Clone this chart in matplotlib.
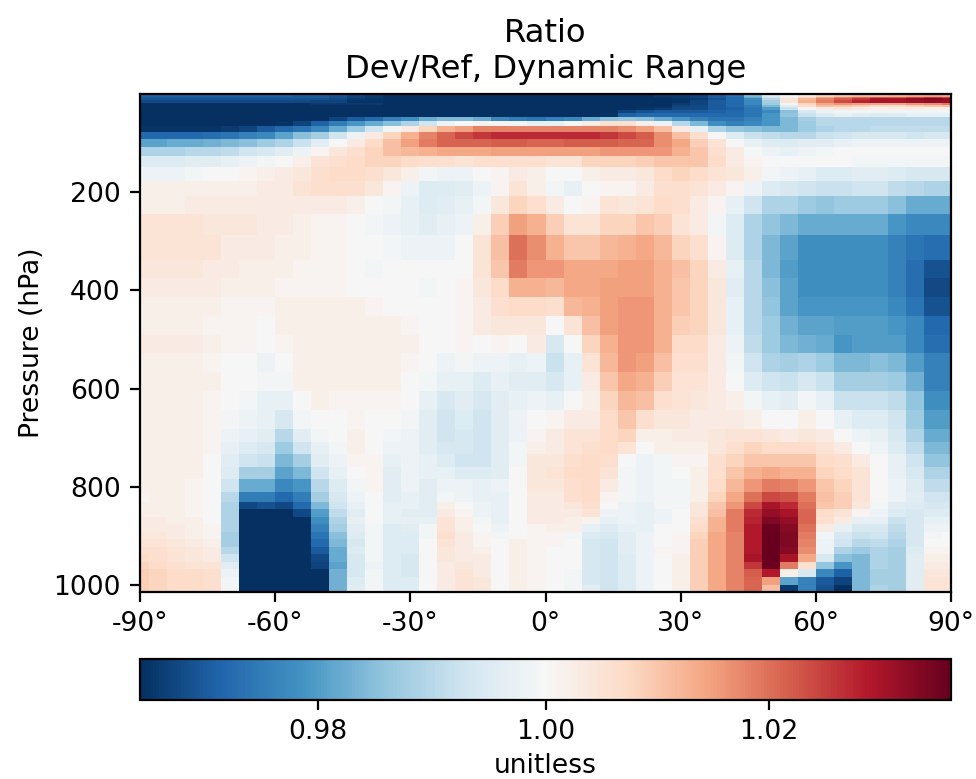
import numpy as np
import matplotlib
matplotlib.use("Agg")
import matplotlib.pyplot as plt
from matplotlib.colors import TwoSlopeNorm

# Pressure edges of the plotted layers (hPa), top to bottom
pressure_edges = [0.01, 6.2, 9.3, 13.6, 19.8, 23.7, 28.4, 33.8, 40.2, 47.6, 56.4, 66.6, 78.5,
                  92.4, 108.7, 127.8, 150.4, 176.9, 208.2, 244.9, 288.1, 337.5,
                  376, 414, 452, 490, 528, 566, 604, 643, 682.2,
                  707.7, 733.1, 758.6, 784.1, 809.5, 829.9, 845.2, 860.5, 875.8,
                  891.05, 906.3, 921.6, 936.9, 952.2, 967.5, 982.8, 998.05, 1013.25]
# Latitude edges of the zonal cells (degrees)
lat_edges = [-90, -88, -84, -80, -76, -72, -68, -64, -60, -56, -52, -48, -44, -40, -36, -32,
             -28, -24, -20, -16, -12, -8, -4, 0, 4, 8, 12, 16, 20, 24, 28, 32, 36, 40, 44,
             48, 52, 56, 60, 64, 68, 72, 76, 80, 84, 88, 90]

# Ratio minus one, in thousandths, one list per layer (named by its lower pressure edge)
p0006 = [-29]*9 + [-30, -30, -31, -33, -34, -36, -37, -37, -38] + [-38]*9 + [-37, -36, -34, -34, -33, -30, -27, -16, -5, 0, 4, 8, 10, 12, 12, 13, 14, 15, 14]
p0009 = [-30]*11 + [-31, -33, -34, -36, -36, -36] + [-38]*10 + [-37, -36, -35, -34, -33, -30, -28, -18, -7, 2, 8, 14, 18, 20, 22, 22, 24, 26, 24]
p0014 = [-31]*11 + [-32, -34, -35, -37, -37] + [-38]*11 + [-37, -37, -36, -35, -34, -31, -28, -22, -10, 4, 12, 18, 22, 26, 30, 30, 32, 33, 32]
p0020 = [-32]*10 + [-33, -33, -35, -35, -37] + [-38]*13 + [-37, -36, -35, -33, -30, -28, -23, -12, 5, 13, 19, 24, 28, 30, 30, 31, 32, 31]
p0024 = [-37]*10 + [-34]*4 + [-37] + [-38]*14 + [-37, -34, -33, -30, -28, -23, -13, -1, 8, 14, 16, 15, 14, 14, 16, 17, 19]
p0028 = [-38]*9 + [-36]*5 + [-38]*15 + [-36, -33, -32, -30, -28, -25, -16, -4, 6, 11, 10, 9, 7, 7, 9, 10, 11]
p0034 = [-38]*28 + [-35, -34, -32, -32, -30, -29, -26, -20, -8, 1, 3, 4, 3, 2, 3, 3, 2, 2]
p0040 = [-38]*27 + [-33, -31, -30, -30, -30, -29, -28, -26, -23, -15, -6, -2, -1, -1, -1, -1, -1, -1, -1]
p0048 = [-38]*14 + [-36]*6 + [-38]*5 + [-36, -35, -29, -28, -28, -28, -28, -28, -28, -26, -21, -14, -8, -5, -3, -4, -5, -4, -3, -3, -3]
p0056 = [-38]*10 + [-36, -33, -30, -28, -24, -22, -18, -16, -16, -18, -23, -25, -26, -24, -23, -18, -15, -14, -15, -18, -21, -24, -26, -26, -24, -21, -16, -12, -10, -10] + [-10]*6
p0067 = [-38]*8 + [-35, -33, -29, -25, -21, -18, -15, -11, -7, -2, 0, 1, 1, -1, -3, -3, 0, 3, 6, 6, 2, -2, -10, -16, -22, -24, -23, -21, -16, -13, -10, -10] + [-10]*6
p0079 = [-35]*5 + [-34, -33, -30, -28, -26, -23, -18, -13, -7, -1, 3, 8, 13, 15, 18, 18, 18, 18, 18, 18, 18, 18, 17, 15, 11, 3, -3, -11, -14, -15, -16, -16, -13, -11, -10, -10, -9, -9, -9, -9, -9]
p0092 = [-28, -28, -28, -28, -27, -26, -24, -23, -19, -15, -12, -7, -2, 3, 8, 13, 18, 21, 24, 26, 27, 27, 27, 27, 27, 27, 26, 24, 22, 17, 11, 6, 0, -5, -8, -9, -10, -10, -8, -7, -6, -6, -6, -7, -6, -6]
p0109 = [-19, -19, -18, -18, -17, -16, -15, -13, -11, -8, -4, 0, 3, 7, 11, 15, 19, 21, 21, 21, 22, 22, 21, 21, 22, 22, 22, 21, 21, 17, 14, 9, 5, 0, -3, -5, -5, -4, -4, -3, -2, -2, -2, -2, -2, -2]
p0128 = [-11, -11, -11, -10, -10, -9, -7, -6, -4, -2, 1, 4, 6, 8, 11, 12, 13, 14, 14, 14, 15, 15, 15, 15, 15, 15, 16, 16, 16, 16, 13, 10, 6, 3, 0, -2, -3, -2, -1, 0, 0, 0, 0, 0, 0, 0]
p0150 = [-5, -5, -5, -4, -4, -3, -2, -1, 0, 2, 5, 6, 7, 8, 8, 7, 6, 6, 5, 6, 6, 6, 6, 5, 5, 8, 8, 8, 9, 10, 10, 10, 7, 3, 1, 0, 0, 0, 0, 0, -1, -1, -1, -1, -1, -1]
p0177 = [-2, -2, -2, -1, 0, 0, 1, 2, 3, 4, 6, 7, 7, 6, 4, 2, -1, -2, -2, 0, 1, 3, 2, 0, 0, 2, 3, 3, 4, 7, 8, 7, 5, 4, 2, -1, -2, -3, -5, -5, -4, -4, -5, -6, -6, -6]
p0208 = [2, 2, 2, 2, 2, 2, 2, 3, 3, 5, 6, 6, 6, 4, 1, -2, -5, -5, -4, -2, 1, 5, 2, -1, -3, 0, 1, 1, 3, 6, 6, 5, 3, 1, -2, -5, -6, -7, -8, -8, -7, -7, -9, -10, -11, -11]
p0245 = [2, 2, 2, 3, 3, 3, 3, 3, 3, 3, 3, 3, 2, 0, -1, -3, -5, -4, -3, -1, 4, 8, 6, 3, 0, 1, 5, 4, 5, 7, 6, 3, 1, -3, -7, -11, -11, -13, -14, -13, -13, -13, -15, -18, -18, -18]
p0288 = [5, 5, 5, 5, 4, 4, 4, 3, 3, 2, 1, 1, 0, -1, -2, -3, -4, -3, -2, 2, 9, 15, 13, 9, 5, 5, 8, 8, 10, 9, 5, 3, -1, -5, -11, -14, -16, -18, -18, -18, -18, -18, -21, -23, -23, -23]
p0338 = [5, 5, 5, 5, 5, 3, 3, 3, 2, 2, 1, 1, 0, 0, -1, -2, -2, -2, 0, 5, 11, 20, 17, 13, 10, 10, 12, 13, 14, 12, 8, 6, 1, -5, -11, -16, -19, -22, -22, -22, -22, -22, -24, -26, -27, -27]
p0376 = [4, 4, 4, 4, 3, 3, 2, 2, 2, 1, 1, 1, 0, -1, 0, 0, 0, 0, 0, 5, 10, 19, 16, 16, 14, 14, 14, 15, 15, 13, 11, 8, 3, -3, -10, -16, -20, -22, -22, -22, -22, -22, -24, -27, -31, -31]
p0414 = [3, 3, 3, 3, 3, 2, 2, 2, 1, 1, 1, 1, 0, 0, 0, 0, -1, 0, 1, 4, 7, 13, 13, 12, 14, 14, 15, 15, 15, 13, 10, 8, 4, -4, -10, -15, -19, -22, -22, -22, -22, -22, -24, -27, -32, -32]
p0452 = [2, 2, 2, 2, 2, 1, 1, 1, 2, 2, 2, 2, 2, 1, 0, 0, 0, 0, 1, 3, 6, 7, 7, 6, 12, 13, 15, 16, 16, 13, 10, 8, 4, -3, -10, -14, -19, -21, -21, -21, -21, -21, -23, -26, -31, -31]
p0490 = [2, 2, 2, 2, 1, 1, 1, 0, 2, 2, 2, 2, 2, 2, 2, 1, 0, 0, 1, 3, 4, 4, 4, 0, 5, 11, 15, 16, 16, 13, 9, 8, 4, -3, -10, -13, -17, -19, -19, -20, -20, -20, -21, -23, -28, -28]
p0528 = [3, 3, 3, 3, 2, 1, 1, 0, 1, 2, 2, 2, 2, 2, 2, 2, 0, 0, 1, 0, 1, 0, 3, -6, 0, 8, 13, 16, 16, 13, 7, 7, 3, -2, -9, -13, -16, -17, -18, -21, -20, -20, -20, -23, -27, -27]
p0566 = [2, 2, 2, 2, 1, 0, 0, -2, 0, 2, 2, 2, 2, 2, 2, 1, 0, -2, -1, -2, -2, -3, -2, -8, -3, 5, 12, 16, 15, 11, 6, 6, 3, -1, -7, -11, -12, -11, -13, -16, -16, -15, -16, -20, -24, -24]
p0604 = [2, 2, 2, 2, 2, 0, 0, -1, -1, 2, 2, 2, 2, 2, 2, 0, -1, -3, -3, -5, -3, -4, -4, -6, -3, 3, 10, 14, 13, 9, 5, 5, 3, 0, -5, -7, -8, -6, -8, -12, -12, -12, -13, -17, -24, -24]
p0643 = [2, 2, 2, 2, 1, 0, -1, -3, -3, 0, 2, 1, 1, 1, 1, 0, -3, -6, -4, -6, -4, -3, -2, -3, 0, 2, 8, 12, 11, 6, 5, 4, 3, 2, -1, -3, -4, -1, -3, -8, -8, -8, -9, -14, -22, -22]
p0682 = [2, 2, 2, 2, 1, -1, -2, -3, -6, -1, 0, 0, 1, 0, 0, -1, -4, -7, -5, -7, -4, -2, 0, 1, 3, 3, 7, 10, 6, 4, 4, 3, 3, 3, 2, 0, 0, 2, 0, -3, -5, -5, -7, -13, -20, -20]
p0708 = [2, 2, 2, 2, 1, -2, -3, -4, -10, -4, -1, 0, 2, 0, -1, -2, -4, -7, -6, -7, -4, -2, 1, 3, 5, 5, 7, 8, 2, 2, 3, 3, 4, 5, 5, 4, 3, 4, 3, 0, -2, -3, -6, -11, -18, -18]
p0733 = [2, 2, 2, 2, 1, -3, -5, -6, -13, -7, -3, -1, 2, 0, -2, -2, -4, -6, -6, -7, -4, -1, 2, 3, 5, 6, 7, 5, 0, 2, 2, 2, 4, 6, 8, 7, 7, 7, 5, 3, 0, -2, -5, -9, -16, -16]
p0759 = [2, 2, 2, 2, 0, -4, -7, -8, -16, -12, -4, -2, 1, 1, -3, -2, -3, -5, -7, -7, -4, -1, 4, 4, 6, 7, 6, 0, -2, -1, 1, 1, 6, 8, 10, 10, 10, 10, 7, 6, 3, 0, -3, -7, -14, -14]
p0784 = [2, 2, 2, 2, 0, -5, -12, -12, -19, -16, -7, -3, 0, 1, -4, -2, -3, -3, -5, -5, -4, 0, 4, 5, 7, 7, 5, -1, -2, -1, 0, 2, 6, 10, 13, 14, 13, 13, 8, 7, 5, 0, -3, -6, -11, -11]
p0810 = [2, 2, 2, 1, 0, -7, -18, -18, -23, -21, -10, -5, -1, 1, -4, -2, -4, -2, -2, -3, -2, 0, 4, 4, 6, 7, 3, -1, -2, -1, -1, 2, 7, 12, 16, 19, 18, 16, 10, 8, 5, 0, -2, -5, -9, -9]
p0830 = [1, 2, 2, 1, 0, -10, -25, -25, -28, -25, -12, -6, -2, 0, -4, -3, -4, -1, -2, -3, -3, 0, 3, 3, 6, 7, 1, -1, -2, -1, -1, 2, 8, 14, 20, 24, 23, 19, 11, 9, 5, 0, -2, -4, -7, -7]
p0845 = [2, 2, 2, 1, 0, -11, -32, -31, -32, -28, -16, -7, -3, 0, -3, -3, -4, 2, 0, -2, -3, 0, 3, 3, 4, 6, 0, -2, -3, -1, -1, 4, 10, 16, 24, 30, 27, 20, 10, 9, 4, -1, -4, -5, -6, -6]
p0861 = [2, 2, 2, 1, 0, -11, -38, -37, -36, -32, -20, -9, -4, 0, -3, -4, -4, 3, 1, -2, -3, 0, 3, 3, 3, 5, -2, -2, -3, -2, 0, 4, 11, 19, 27, 32, 30, 21, 7, 5, 1, -2, -5, -6, -5, -5]
p0876 = [3, 3, 2, 2, 0, -11, -38, -38, -38, -36, -22, -11, -3, 0, -3, -3, -3, 5, 2, -1, -3, 0, 3, 3, 2, 1, -3, -2, -3, -2, 0, 6, 13, 19, 28, 34, 32, 21, 6, 3, -3, -3, -8, -6, -3, -3]
p0891 = [3, 3, 3, 2, 1, -11, -38, -38, -38, -38, -24, -12, -4, -1, -5, -4, -1, 5, 2, 0, -2, 0, 1, 2, 2, -3, -5, -3, -3, 0, 0, 7, 13, 19, 29, 36, 33, 20, 3, -3, -6, -6, -9, -6, -2, -2]
p0906 = [4, 4, 3, 2, 1, -12, -38, -38, -38, -38, -26, -15, -5, -1, -5, -5, -1, 6, 3, 1, -1, 0, 1, 1, -1, -5, -6, -4, -2, 0, 1, 8, 14, 18, 29, 37, 34, 19, -1, -6, -8, -7, -10, -6, -1, 0]
p0922 = [5, 5, 4, 3, 2, -12, -38, -38, -38, -38, -28, -16, -6, -1, -5, -5, 0, 5, 3, 1, 0, 2, 1, 1, 0, -6, -7, -4, -2, 0, 1, 9, 14, 18, 29, 37, 34, 18, -2, -7, -10, -9, -11, -6, 0, 0]
p0937 = [6, 6, 5, 4, 3, -10, -38, -38, -38, -38, -30, -18, -5, -1, -5, -5, 0, 4, 3, 2, 0, 2, 1, 0, 0, -6, -7, -4, -2, 1, 1, 9, 14, 18, 29, 37, 33, 17, -2, -11, -13, -11, -12, -5, 1, 1]
p0952 = [7, 6, 5, 4, 3, -7, -38, -38, -38, -38, -32, -18, -6, -1, -5, -6, 0, 4, 3, 3, 0, 2, 1, 0, 0, -6, -7, -5, -2, 0, 2, 9, 14, 18, 30, 37, 30, 14, -6, -15, -16, -11, -12, -4, 2, 2]
p0968 = [8, 7, 6, 5, 5, -4, -38, -38, -38, -38, -33, -19, -6, -2, -5, -6, 0, 3, 4, 3, 0, 2, 1, 0, 0, -6, -7, -5, -2, 0, 2, 9, 14, 18, 26, 36, 19, 6, -14, -21, -16, -11, -12, -4, 3, 3]
p0983 = [9, 8, 7, 7, 6, -2, -38, -38, -38, -38, -36, -17, -6, -1, -5, -6, 0, 3, 5, 3, 0, 2, 1, 0, -1, -6, -7, -5, -2, 0, 2, 9, 14, 18, 22, 29, 2, -6, -23, -29, -16, -12, -12, -4, 4, 4]
p0998 = [9, 8, 7, 7, 6, -1, -38, -38, -38, -38, -37, -17, -5, -1, -5, -5, 0, 3, 5, 4, 0, 2, 1, 0, -1, -6, -7, -5, -2, 0, 2, 9, 14, 18, 21, 15, -19, -24, -30, -33, -16, -12, -12, -4, 5, 5]
p1013 = [9, 8, 7, 7, 6, -1, -38, -38, -38, -38, -37, -17, -4, -1, -5, -5, 0, 3, 5, 4, 0, 2, 1, 0, -1, -4, -7, -5, -2, 0, 2, 9, 14, 18, 21, 11, -34, -24, -31, -38, -16, -11, -12, -4, 5, 5]

layers = [p0006, p0009, p0014, p0020, p0024, p0028, p0034, p0040, p0048, p0056, p0067, p0079,
          p0092, p0109, p0128, p0150, p0177, p0208, p0245, p0288, p0338,
          p0376, p0414, p0452, p0490, p0528, p0566, p0604, p0643, p0682,
          p0708, p0733, p0759, p0784, p0810, p0830, p0845, p0861, p0876,
          p0891, p0906, p0922, p0937, p0952, p0968, p0983, p0998, p1013]

lat_ticks = [-90, -60, -30, 0, 30, 60, 90]
pressure_ticks = [200, 400, 600, 800, 1000]
cbar_ticks = [0.98, 1.00, 1.02]

ratio = 1.0 + np.array(layers, dtype=float) / 1000.0

W, H = 976, 779
fig = plt.figure(figsize=(W / 200, H / 200), dpi=200)
ax = fig.add_axes([140 / W, 1 - 592 / H, 811 / W, 498.5 / H])
norm = TwoSlopeNorm(vcenter=1.0, vmin=0.9644, vmax=1.0363)
mesh = ax.pcolormesh(lat_edges, pressure_edges, ratio, cmap="RdBu_r", norm=norm, shading="flat",
                     linewidth=0, rasterized=True)
ax.set_xlim(-90, 90)
ax.set_ylim(1013.25, 0.01)
ax.set_xticks(lat_ticks)
ax.set_xticklabels([f"{v}\u00b0" for v in lat_ticks], fontsize=9.6)
ax.set_yticks(pressure_ticks)
ax.set_yticklabels([str(v) for v in pressure_ticks], fontsize=9.6)
ax.set_ylabel("Pressure (hPa)", fontsize=9.6, labelpad=3.0)
ax.set_title("Ratio\nDev/Ref, Dynamic Range", fontsize=11.6, pad=5.5)

cax = fig.add_axes([140 / W, 1 - 700 / H, 811 / W, 41 / H])
cb = fig.colorbar(mesh, cax=cax, orientation="horizontal")
cb.set_ticks(cbar_ticks)
cb.set_ticklabels([f"{v:.2f}" for v in cbar_ticks])
cb.ax.minorticks_off()
cb.ax.tick_params(labelsize=9.6)
cb.set_label("unitless", fontsize=9.6, labelpad=2.6)

fig.savefig("out.png", dpi=200)
